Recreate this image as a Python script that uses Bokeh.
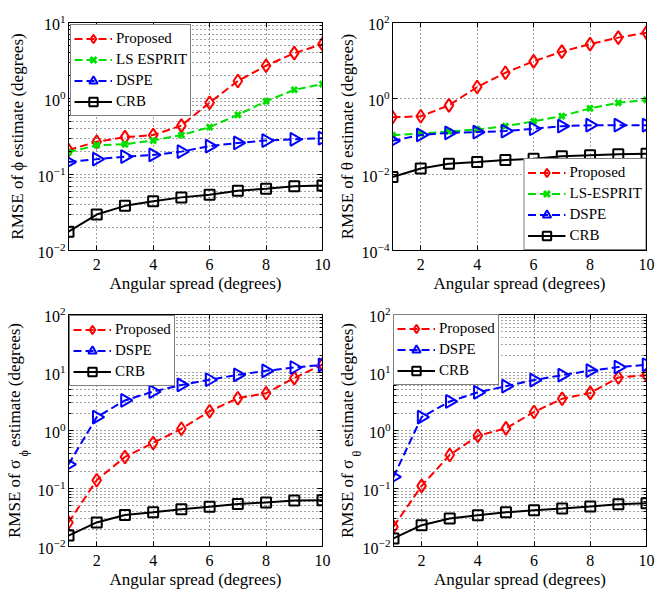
import math
from bokeh.plotting import figure
from bokeh.models import (Range1d, FixedTicker, LogAxis, LinearAxis, Legend,
                          LegendItem, Title)
from bokeh.layouts import row, column
from bokeh.embed import file_html
from bokeh.resources import INLINE

# ---------------- data ----------------
angular_spread = [1, 2, 3, 4, 5, 6, 7, 8, 9, 10]
x_ticks = [2, 4, 6, 8, 10]

# RMSE of phi estimate
phi_proposed = [0.21, 0.27, 0.31, 0.33, 0.44, 0.88, 1.7, 2.7, 3.95, 5.2]
phi_ls_esprit = [0.196, 0.243, 0.25, 0.28, 0.33, 0.42, 0.61, 0.92, 1.3, 1.55]
phi_dspe = [0.146, 0.159, 0.172, 0.181, 0.20, 0.236, 0.26, 0.28, 0.29, 0.30]
phi_crb = [0.0177, 0.0297, 0.0387, 0.0445, 0.050, 0.054, 0.061, 0.065, 0.070, 0.0715]

# RMSE of theta estimate
theta_proposed = [0.32, 0.34, 0.66, 2.0, 4.75, 9.5, 17.1, 27.0, 40.0, 54.0]
theta_ls_esprit = [0.108, 0.119, 0.136, 0.153, 0.187, 0.25, 0.344, 0.55, 0.77, 0.92]
theta_dspe = [0.077, 0.11, 0.124, 0.131, 0.139, 0.16, 0.187, 0.198, 0.198, 0.198]
theta_crb = [0.0086, 0.0144, 0.0193, 0.0213, 0.024, 0.026, 0.030, 0.032, 0.034, 0.035]

# RMSE of sigma_phi estimate
sphi_proposed = [0.026, 0.139, 0.35, 0.61, 1.07, 2.15, 3.6, 4.4, 8.0, 13.8]
sphi_dspe = [0.26, 1.7, 3.3, 4.7, 6.1, 7.5, 9.1, 10.7, 12.2, 13.5]
sphi_crb = [0.0154, 0.026, 0.035, 0.039, 0.044, 0.0485, 0.054, 0.0575, 0.062, 0.063]

# RMSE of sigma_theta estimate
stheta_proposed = [0.0219, 0.111, 0.379, 0.81, 1.09, 2.09, 3.52, 4.45, 8.2, 9.0]
stheta_dspe = [0.158, 1.7, 3.17, 4.56, 5.8, 7.4, 9.0, 10.8, 12.4, 13.6]
stheta_crb = [0.0138, 0.0233, 0.0303, 0.0345, 0.0388, 0.042, 0.0453, 0.049, 0.0537, 0.0558]

x_label = "Angular spread (degrees)"

SERIF = "Liberation Serif"
GRID = "#444444"
NBSP = "\u00a0"


def decades(lo, hi, step=1):
    return [10.0 ** e for e in range(lo, hi + 1, step)]


def minors(lo, hi):
    out = []
    for e in range(lo, hi):
        for m in range(2, 10):
            out.append(m * 10.0 ** e)
    return out


def style_axis(ax):
    ax.axis_line_color = "black"
    ax.major_tick_line_color = "black"
    ax.minor_tick_line_color = "black"
    ax.major_tick_in = 5
    ax.major_tick_out = 0
    ax.minor_tick_in = 3
    ax.minor_tick_out = 0
    ax.major_label_text_font = SERIF
    ax.major_label_text_color = "black"
    ax.axis_label_text_font = SERIF
    ax.axis_label_text_font_style = "normal"
    ax.axis_label_text_font_size = "17px"
    ax.axis_label_text_color = "black"


def make_fig(w, h, bl, br, bt, bb, elo, ehi, estep, with_minor, ylab, ylab_standoff):
    p = figure(width=w, height=h, x_range=Range1d(1, 10),
               y_range=Range1d(10.0 ** elo, 10.0 ** ehi), y_axis_type="log",
               output_backend="svg", toolbar_location=None,
               min_border_left=bl, min_border_right=br,
               min_border_top=bt, min_border_bottom=bb)
    p.outline_line_color = "black"
    p.outline_line_width = 1
    p.background_fill_color = "white"
    p.border_fill_color = "white"
    xt = FixedTicker(ticks=x_ticks)
    yt = FixedTicker(ticks=decades(elo, ehi, estep),
                     minor_ticks=minors(elo, ehi) if with_minor else [])
    bx = p.below[0]
    ly = p.left[0]
    bx.ticker = xt
    ly.ticker = yt
    p.xgrid.ticker = xt
    p.ygrid.ticker = yt
    for g in (p.xgrid, p.ygrid):
        g.grid_line_color = GRID
        g.grid_line_dash = "1 3"
        g.grid_line_width = 1
    if with_minor:
        p.ygrid.minor_grid_line_color = GRID
        p.ygrid.minor_grid_line_dash = "1 3"
        p.ygrid.minor_grid_line_width = 1
    style_axis(bx)
    style_axis(ly)
    bx.minor_tick_line_color = None
    bx.major_label_text_font_size = "16px"
    ly.major_label_text_font_size = "16px"
    bx.major_label_standoff = 8
    ly.major_label_standoff = 3
    bx.axis_label = x_label
    bx.axis_label_standoff = 1
    if ylab is not None:
        ly.axis_label = ylab
        ly.axis_label_standoff = ylab_standoff
    ra = LogAxis(ticker=yt)
    ta = LinearAxis(ticker=xt)
    for ax in (ra, ta):
        style_axis(ax)
        ax.major_label_text_font_size = "1px"
        ax.major_label_text_alpha = 0.0
        ax.major_label_standoff = 0
    ta.minor_tick_line_color = None
    p.add_layout(ra, "right")
    p.add_layout(ta, "above")
    return p


def add_sigma_label(p, sub, sub_standoff, sub_offset, main_standoff):
    # subscript, in its own slim column next to the tick labels
    t = Title(text=sub, text_font=SERIF, text_font_size="12px",
              text_font_style="normal", text_color="black", align="left",
              vertical_align="middle", offset=sub_offset, standoff=sub_standoff)
    p.add_layout(t, "left")
    # main label on an extra, tick-less axis further out
    ax = LogAxis(ticker=FixedTicker(ticks=[]))
    style_axis(ax)
    ax.axis_line_color = None
    ax.major_tick_line_color = None
    ax.minor_tick_line_color = None
    ax.major_label_text_font_size = "1px"
    ax.major_label_text_alpha = 0.0
    ax.major_label_standoff = 0
    ax.axis_label = "RMSE of σ" + NBSP * 3 + "estimate (degrees)"
    ax.axis_label_standoff = main_standoff
    p.add_layout(ax, "left")


def series(p, y, color, dash, marker, size, lw, angle=0.0):
    l = p.line(angular_spread, y, line_color=color, line_width=2, line_dash=dash)
    s = p.scatter(angular_spread, y, marker=marker, size=size, line_color=color,
                  fill_color=None, line_width=lw, angle=angle)
    return [l, s]


def add_legend(p, items, loc, margin):
    leg = Legend(items=[LegendItem(label=t, renderers=r) for t, r in items],
                 location=loc, margin=margin, padding=3, spacing=0,
                 glyph_width=38, glyph_height=21, label_height=21,
                 label_standoff=4, border_line_color="black",
                 border_line_width=1, background_fill_color="white",
                 background_fill_alpha=1.0, label_text_font=SERIF,
                 label_text_font_size="15px", label_text_color="black")
    p.add_layout(leg)


RED, GREEN, BLUE, BLACK = "#ff0000", "#00e000", "#0000ff", "#000000"
DASH = "8 4"

# ---------- panel 1: phi ----------
p1 = make_fig(334, 295, 68, 12, 22, 38, -2, 1, 1, True,
              "RMSE of ϕ estimate (degrees)", 8)
r = [series(p1, phi_proposed, RED, DASH, "diamond", 13, 2),
     series(p1, phi_ls_esprit, GREEN, DASH, "x", 8, 3),
     series(p1, phi_dspe, BLUE, DASH, "triangle", 13, 2, -math.pi / 2),
     series(p1, phi_crb, BLACK, "solid", "square", 10, 2)]
add_legend(p1, list(zip(["Proposed", "LS ESPRIT", "DSPE", "CRB"], r)), "top_left", 2)

# ---------- panel 2: theta ----------
p2 = make_fig(334, 295, 57, 22, 19, 42, -4, 2, 2, False,
              "RMSE of θ estimate (degrees)", 2)
r = [series(p2, theta_proposed, RED, DASH, "diamond", 13, 2),
     series(p2, theta_ls_esprit, GREEN, DASH, "x", 8, 3),
     series(p2, theta_dspe, BLUE, DASH, "triangle", 13, 2, -math.pi / 2),
     series(p2, theta_crb, BLACK, "solid", "square", 10, 2)]
add_legend(p2, list(zip(["Proposed", "LS-ESPRIT", "DSPE", "CRB"], r)), "bottom_right", 0)

# ---------- panel 3: sigma_phi ----------
p3 = make_fig(334, 296, 68, 12, 19, 42, -2, 2, 1, True, None, 0)
r = [series(p3, sphi_proposed, RED, DASH, "diamond", 13, 2),
     series(p3, sphi_dspe, BLUE, DASH, "triangle", 13, 2, -math.pi / 2),
     series(p3, sphi_crb, BLACK, "solid", "square", 10, 2)]
add_legend(p3, list(zip(["Proposed", "DSPE", "CRB"], r)), "top_left", 1)
add_sigma_label(p3, "ϕ", 6, 90, -11)

# ---------- panel 4: sigma_theta ----------
p4 = make_fig(334, 296, 56, 22, 18, 42, -2, 2, 1, True, None, 0)
r = [series(p4, stheta_proposed, RED, DASH, "diamond", 13, 2),
     series(p4, stheta_dspe, BLUE, DASH, "triangle", 13, 2, -math.pi / 2),
     series(p4, stheta_crb, BLACK, "solid", "square", 10, 2)]
add_legend(p4, list(zip(["Proposed", "DSPE", "CRB"], r)), "top_left", 0)
add_sigma_label(p4, "θ", -9.6, 90, -3)

layout = column(row(p1, p2), row(p3, p4))
open("out.html", "w").write(file_html(layout, INLINE))
